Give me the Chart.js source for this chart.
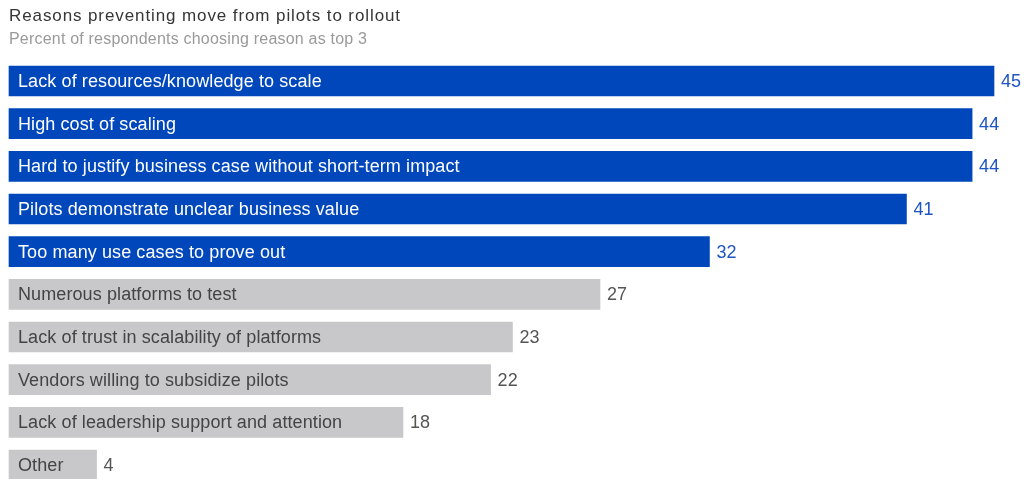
<!DOCTYPE html>
<html>
<head>
<meta charset="utf-8">
<script src="https://cdn.jsdelivr.net/npm/chart.js@4/dist/chart.umd.min.js"></script>
<style>
  html, body { margin: 0; padding: 0; background: #fff; }
  #wrap { position: relative; width: 1024px; height: 479px; overflow: hidden; }
  canvas { display: block; }
</style>
</head>
<body>
<div id="wrap"><canvas id="c" width="1024" height="479"></canvas></div>
<script>
const titleText = "Reasons preventing move from pilots to rollout";
const subtitleText = "Percent of respondents choosing reason as top 3";
const categories = [
  "Lack of resources/knowledge to scale",
  "High cost of scaling",
  "Hard to justify business case without short-term impact",
  "Pilots demonstrate unclear business value",
  "Too many use cases to prove out",
  "Numerous platforms to test",
  "Lack of trust in scalability of platforms",
  "Vendors willing to subsidize pilots",
  "Lack of leadership support and attention",
  "Other"
];
const values = [45, 44, 44, 41, 32, 27, 23, 22, 18, 4];
const highlighted = [true, true, true, true, true, false, false, false, false, false];

const BLUE = "#0047BB";
const GREY = "#C8C8CA";
const FONT = "'Liberation Sans', Arial, sans-serif";

const labelPlugin = {
  id: 'barLabels',
  afterDatasetsDraw(chart) {
    const ctx = chart.ctx;
    const meta = chart.getDatasetMeta(0);
    ctx.save();
    ctx.font = "18px " + FONT;
    ctx.letterSpacing = "0.1px";
    ctx.textBaseline = "alphabetic";
    ctx.textAlign = "left";
    meta.data.forEach((bar, i) => {
      const hl = highlighted[i];
      ctx.fillStyle = hl ? "#FFFFFF" : "#444444";
      ctx.fillText(categories[i], bar.base + 9, bar.y + 6);
      ctx.fillStyle = hl ? "#1F55C2" : "#555555";
      ctx.fillText(String(values[i]), bar.x + 7, bar.y + 6);
    });
    ctx.restore();
  },
  afterDraw(chart) {
    const ctx = chart.ctx;
    ctx.save();
    ctx.textAlign = "left";
    ctx.textBaseline = "alphabetic";
    ctx.font = "17px " + FONT;
    ctx.letterSpacing = "0.9px";
    ctx.fillStyle = "#363636";
    ctx.fillText(titleText, 9, 21);
    ctx.font = "16px " + FONT;
    ctx.letterSpacing = "0.2px";
    ctx.fillStyle = "#9A9A9A";
    ctx.fillText(subtitleText, 9, 44);
    ctx.restore();
  }
};

new Chart(document.getElementById('c'), {
  type: 'bar',
  data: {
    labels: categories,
    datasets: [{
      data: values,
      backgroundColor: highlighted.map(h => h ? BLUE : GREY),
      borderWidth: 0,
      barThickness: 30,
      clip: false
    }]
  },
  options: {
    indexAxis: 'y',
    responsive: false,
    animation: false,
    layout: { padding: { left: 9, right: 30, top: 81, bottom: 14 } },
    scales: {
      x: { display: false, min: 0, max: 45 },
      y: { display: false, offset: false }
    },
    plugins: {
      legend: { display: false },
      tooltip: { enabled: false },
      title: { display: false }
    }
  },
  plugins: [labelPlugin]
});
</script>
</body>
</html>
